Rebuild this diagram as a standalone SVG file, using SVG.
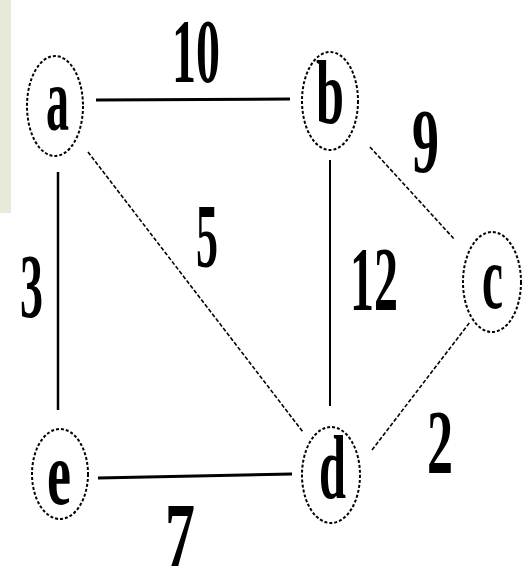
<svg xmlns="http://www.w3.org/2000/svg" width="528" height="569" viewBox="0 0 528 569">
<style>
.node{fill:none;stroke:#000;stroke-width:2;stroke-dasharray:3 2}
.w{font-family:"Liberation Serif","Times New Roman",serif;font-size:92px;font-weight:bold;fill:#000}
.solid{stroke:#000;fill:none}
.dash{stroke:#000;fill:none;stroke-width:1.6;stroke-dasharray:4 2}
</style>
<rect width="528" height="569" fill="#fff"/>
<rect x="0" y="0" width="11" height="213" fill="#e6ead8"/>
<g id="connectors">
<line class="solid" x1="96" y1="100" x2="290" y2="99" stroke-width="3"/>
<line class="solid" x1="58" y1="172" x2="58" y2="410" stroke-width="2.5"/>
<line class="dash" x1="88" y1="152" x2="303" y2="432"/>
<line class="solid" x1="330" y1="160" x2="330" y2="406" stroke-width="2"/>
<line class="dash" x1="370" y1="147" x2="455" y2="240"/>
<line class="dash" x1="372" y1="450" x2="470" y2="322"/>
<line class="solid" x1="98" y1="478" x2="292" y2="474" stroke-width="3"/>
<text class="w" x="172" y="82" textLength="48" lengthAdjust="spacingAndGlyphs">10</text>
<text class="w" x="412" y="172" textLength="27" lengthAdjust="spacingAndGlyphs">9</text>
<text class="w" x="196" y="267" textLength="22" lengthAdjust="spacingAndGlyphs">5</text>
<text class="w" x="350" y="310" textLength="48" lengthAdjust="spacingAndGlyphs">12</text>
<text class="w" x="20" y="317" textLength="23" lengthAdjust="spacingAndGlyphs">3</text>
<text class="w" x="427" y="473" textLength="26" lengthAdjust="spacingAndGlyphs">2</text>
<text class="w" x="165" y="566" textLength="30" lengthAdjust="spacingAndGlyphs">7</text>
</g>
<g id="node-a">
<ellipse class="node" cx="55" cy="106" rx="28" ry="50"/>
<text class="w" x="46" y="130" textLength="23" lengthAdjust="spacingAndGlyphs">a</text>
</g>
<g id="node-b">
<ellipse class="node" cx="330" cy="101" rx="28" ry="49"/>
<text class="w" x="316" y="123" textLength="28" lengthAdjust="spacingAndGlyphs">b</text>
</g>
<g id="node-c">
<ellipse class="node" cx="492" cy="282" rx="29" ry="50"/>
<text class="w" x="482" y="308" textLength="21" lengthAdjust="spacingAndGlyphs">c</text>
</g>
<g id="node-d">
<ellipse class="node" cx="331" cy="475" rx="29" ry="48"/>
<text class="w" x="319" y="498" textLength="27" lengthAdjust="spacingAndGlyphs">d</text>
</g>
<g id="node-e">
<ellipse class="node" cx="60" cy="474" rx="28" ry="45"/>
<text class="w" x="47" y="504" textLength="24" lengthAdjust="spacingAndGlyphs">e</text>
</g>
</svg>
